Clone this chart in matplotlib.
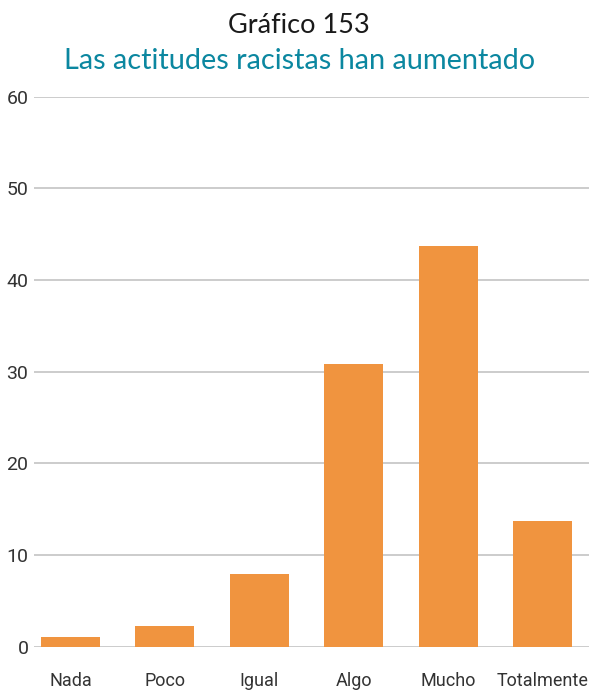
import matplotlib.pyplot as plt
from matplotlib import font_manager

categories = ['Nada', 'Poco', 'Igual', 'Algo', 'Mucho', 'Totalmente']
values = [1.1, 2.3, 8.0, 30.9, 43.7, 13.7]
yticks = [0, 10, 20, 30, 40, 50, 60]

names = {f.name for f in font_manager.fontManager.ttflist}
tick_font = ['Liberation Sans Narrow', 'DejaVu Sans'] if 'Liberation Sans Narrow' in names else ['Roboto', 'DejaVu Sans']

fig = plt.figure(figsize=(5.89, 6.91), dpi=100)
ax = fig.add_axes([0.0577, 0.0637, 0.9423, 0.7966])

x = range(len(categories))
ax.bar(x, values, width=0.625, color='#F0943F', zorder=3)

ax.set_ylim(0, 60)
ax.set_xlim(-0.387, 5.49)
ax.set_yticks(yticks)
ax.set_xticks(list(x))
ax.set_xticklabels(categories)
ax.grid(axis='y', color='#C8C8C8', linewidth=1.3, zorder=0)
for s in ax.spines.values():
    s.set_visible(False)
ax.tick_params(axis='both', length=0, labelcolor='#333333')
ax.tick_params(axis='y', pad=4, labelsize=14)
ax.tick_params(axis='x', pad=18, labelsize=13)
for lab in ax.get_xticklabels() + ax.get_yticklabels():
    lab.set_family(tick_font)

fig.text(0.508, 0.963, 'Gráfico 153', ha='center', va='center',
         fontsize=19.5, color='#1a1a1a', family=['Lato', 'DejaVu Sans'])
fig.text(0.508, 0.911, 'Las actitudes racistas han aumentado', ha='center', va='center',
         fontsize=20.8, color='#0B87A0', family=['Lato', 'DejaVu Sans'])

fig.savefig('out.png', dpi=100)
